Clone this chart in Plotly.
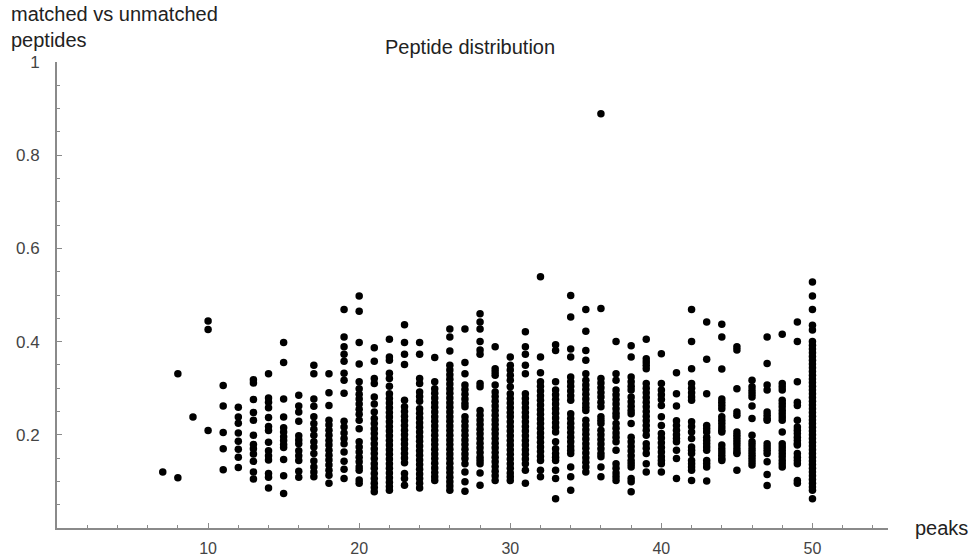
import plotly.graph_objects as go

# ---- data (peaks -> matched/unmatched ratio) ----
col_07 = [0.120]
col_08 = [0.331, 0.108]
col_09 = [0.238]
col_10 = [0.444, 0.426, 0.209]
col_11 = [0.306, 0.262, 0.205, 0.170, 0.125]
col_12 = [0.259, 0.238, 0.225, 0.204, 0.186, 0.169, 0.152, 0.130]
col_13 = [0.318, 0.311, 0.276, 0.248, 0.231, 0.199, 0.179, 0.170, 0.159, 0.143, 0.120, 0.105]
col_14 = [0.331, 0.279, 0.270, 0.258, 0.237, 0.218, 0.209, 0.184, 0.166, 0.155, 0.146, 0.117, 0.109, 0.086]
col_15 = [0.398, 0.355, 0.277, 0.238, 0.215, 0.206, 0.196, 0.188, 0.179, 0.173, 0.147, 0.112, 0.074]
col_16 = [0.285, 0.262, 0.249, 0.229, 0.198, 0.189, 0.181, 0.166, 0.155, 0.145, 0.122, 0.109]
col_17 = [0.349, 0.331, 0.277, 0.261, 0.239, 0.224, 0.212, 0.199, 0.185, 0.174, 0.160, 0.144, 0.131, 0.120, 0.110]
col_18 = [0.331, 0.290, 0.263, 0.231, 0.221, 0.210, 0.199, 0.188, 0.178, 0.167, 0.156, 0.146, 0.135, 0.124, 0.113, 0.096]
col_19 = [0.469, 0.410, 0.389, 0.373, 0.358, 0.332, 0.317, 0.289, 0.229, 0.217, 0.204, 0.192, 0.181, 0.163, 0.143, 0.126, 0.106]
col_20 = [0.498, 0.465, 0.398, 0.352, 0.314, 0.299, 0.287, 0.277, 0.266, 0.255, 0.244, 0.231, 0.213, 0.185, 0.174, 0.163,
          0.152, 0.142, 0.131, 0.124, 0.103, 0.096]
col_21 = [0.387, 0.358, 0.321, 0.310, 0.281, 0.266, 0.249, 0.235, 0.224, 0.213, 0.203, 0.192, 0.181, 0.170, 0.160, 0.149,
          0.138, 0.128, 0.117, 0.106, 0.096, 0.087, 0.078]
col_22 = [0.405, 0.367, 0.360, 0.332, 0.321, 0.304, 0.288, 0.278, 0.268, 0.258, 0.248, 0.238, 0.228, 0.218, 0.208, 0.198,
          0.188, 0.178, 0.168, 0.158, 0.148, 0.138, 0.128, 0.118, 0.108, 0.098, 0.089, 0.081]
col_23 = [0.436, 0.398, 0.373, 0.351, 0.274, 0.260, 0.250, 0.240, 0.230, 0.220, 0.210, 0.200, 0.190, 0.180, 0.170, 0.160,
          0.150, 0.140, 0.117, 0.106, 0.092]
col_24 = [0.398, 0.373, 0.321, 0.310, 0.292, 0.282, 0.272, 0.256, 0.246, 0.236, 0.226, 0.216, 0.206, 0.196, 0.186, 0.176,
          0.166, 0.156, 0.146, 0.136, 0.126, 0.116, 0.106, 0.096, 0.086]
col_25 = [0.366, 0.314, 0.299, 0.289, 0.279, 0.269, 0.259, 0.249, 0.239, 0.229, 0.219, 0.209, 0.199, 0.189, 0.179, 0.169,
          0.159, 0.149, 0.139, 0.129, 0.119, 0.110, 0.102]
col_26 = [0.427, 0.410, 0.380, 0.349, 0.339, 0.329, 0.319, 0.309, 0.299, 0.289, 0.279, 0.269, 0.259, 0.249, 0.239, 0.229,
          0.219, 0.209, 0.199, 0.189, 0.179, 0.169, 0.159, 0.149, 0.139, 0.129, 0.119, 0.109, 0.099, 0.090, 0.081]
col_27 = [0.427, 0.355, 0.331, 0.307, 0.297, 0.287, 0.277, 0.267, 0.260, 0.239, 0.229, 0.219, 0.209, 0.199, 0.189, 0.179,
          0.169, 0.159, 0.149, 0.138, 0.120, 0.099, 0.079]
col_28 = [0.460, 0.442, 0.427, 0.400, 0.382, 0.373, 0.310, 0.303, 0.252, 0.242, 0.232, 0.222, 0.212, 0.202, 0.192, 0.182,
          0.172, 0.162, 0.152, 0.145, 0.138, 0.118, 0.092]
col_29 = [0.389, 0.342, 0.335, 0.328, 0.307, 0.292, 0.282, 0.272, 0.262, 0.252, 0.242, 0.232, 0.222, 0.212, 0.202, 0.192,
          0.182, 0.172, 0.162, 0.152, 0.142, 0.132, 0.122, 0.112, 0.102]
col_30 = [0.367, 0.349, 0.339, 0.328, 0.317, 0.303, 0.288, 0.278, 0.268, 0.258, 0.248, 0.239, 0.228, 0.218, 0.208, 0.198,
          0.188, 0.178, 0.168, 0.158, 0.148, 0.138, 0.128, 0.118, 0.110, 0.102]
col_31 = [0.421, 0.389, 0.373, 0.349, 0.331, 0.288, 0.278, 0.268, 0.258, 0.248, 0.238, 0.228, 0.218, 0.208, 0.198, 0.188,
          0.178, 0.168, 0.158, 0.148, 0.138, 0.124, 0.096]
col_32 = [0.539, 0.367, 0.333, 0.314, 0.304, 0.294, 0.284, 0.274, 0.264, 0.254, 0.244, 0.234, 0.224, 0.214, 0.204, 0.194,
          0.184, 0.174, 0.164, 0.154, 0.145, 0.124, 0.110]
col_33 = [0.393, 0.381, 0.314, 0.296, 0.286, 0.276, 0.266, 0.256, 0.246, 0.236, 0.226, 0.216, 0.206, 0.185, 0.170, 0.160,
          0.152, 0.145, 0.124, 0.106, 0.063]
col_34 = [0.499, 0.453, 0.384, 0.367, 0.324, 0.314, 0.304, 0.294, 0.284, 0.274, 0.245, 0.235, 0.225, 0.215, 0.205, 0.195,
          0.185, 0.175, 0.167, 0.160, 0.131, 0.110, 0.081]
col_35 = [0.469, 0.422, 0.381, 0.360, 0.331, 0.317, 0.307, 0.297, 0.287, 0.277, 0.267, 0.259, 0.252, 0.231, 0.221, 0.211,
          0.201, 0.191, 0.181, 0.171, 0.161, 0.151, 0.141, 0.131, 0.120]
col_36 = [0.889, 0.471, 0.321, 0.311, 0.301, 0.291, 0.281, 0.270, 0.260, 0.239, 0.231, 0.224, 0.210, 0.200, 0.190, 0.180,
          0.170, 0.160, 0.153, 0.131, 0.110]
col_37 = [0.400, 0.331, 0.317, 0.296, 0.286, 0.276, 0.266, 0.256, 0.246, 0.239, 0.224, 0.214, 0.204, 0.195, 0.185, 0.167,
          0.138, 0.128, 0.118, 0.110, 0.102]
col_38 = [0.391, 0.367, 0.324, 0.314, 0.304, 0.296, 0.281, 0.271, 0.261, 0.252, 0.245, 0.224, 0.195, 0.185, 0.175, 0.165,
          0.155, 0.145, 0.138, 0.131, 0.106, 0.099, 0.078]
col_39 = [0.405, 0.363, 0.356, 0.349, 0.342, 0.310, 0.300, 0.290, 0.280, 0.270, 0.260, 0.250, 0.240, 0.230, 0.220, 0.210,
          0.199, 0.181, 0.171, 0.160, 0.138, 0.120]
col_40 = [0.374, 0.310, 0.296, 0.286, 0.276, 0.263, 0.239, 0.220, 0.203, 0.193, 0.183, 0.173, 0.163, 0.153, 0.145, 0.138, 0.120]
col_41 = [0.333, 0.288, 0.262, 0.230, 0.220, 0.210, 0.200, 0.192, 0.185, 0.167, 0.149, 0.106]
col_42 = [0.469, 0.400, 0.342, 0.310, 0.300, 0.290, 0.281, 0.274, 0.228, 0.218, 0.206, 0.192, 0.174, 0.167, 0.160, 0.145,
          0.138, 0.131, 0.124, 0.102]
col_43 = [0.442, 0.362, 0.288, 0.220, 0.213, 0.206, 0.195, 0.188, 0.181, 0.174, 0.167, 0.145, 0.138, 0.131, 0.101]
col_44 = [0.437, 0.410, 0.341, 0.277, 0.270, 0.263, 0.256, 0.239, 0.231, 0.224, 0.217, 0.210, 0.206, 0.178, 0.170, 0.163,
          0.156, 0.149, 0.145]
col_45 = [0.389, 0.382, 0.299, 0.249, 0.242, 0.206, 0.199, 0.192, 0.185, 0.178, 0.170, 0.163, 0.160, 0.124]
col_46 = [0.317, 0.303, 0.295, 0.288, 0.281, 0.262, 0.235, 0.199, 0.185, 0.178, 0.170, 0.163, 0.156, 0.149, 0.142, 0.135]
col_47 = [0.410, 0.353, 0.307, 0.296, 0.249, 0.242, 0.235, 0.231, 0.181, 0.174, 0.167, 0.160, 0.142, 0.115, 0.091]
col_48 = [0.416, 0.310, 0.303, 0.296, 0.274, 0.267, 0.260, 0.252, 0.245, 0.238, 0.231, 0.206, 0.181, 0.174, 0.167, 0.160,
          0.153, 0.145, 0.138, 0.131]
col_49 = [0.442, 0.400, 0.314, 0.270, 0.263, 0.231, 0.217, 0.210, 0.203, 0.195, 0.188, 0.181, 0.178, 0.160, 0.152, 0.145,
          0.138, 0.102, 0.096]
col_50 = [0.528, 0.498, 0.469, 0.435, 0.425, 0.400, 0.392, 0.384, 0.376, 0.368, 0.360, 0.352, 0.344, 0.336, 0.328, 0.320,
          0.312, 0.304, 0.296, 0.288, 0.280, 0.272, 0.264, 0.256, 0.248, 0.240, 0.232, 0.224, 0.216, 0.208, 0.200, 0.192,
          0.184, 0.176, 0.168, 0.160, 0.152, 0.144, 0.136, 0.128, 0.120, 0.112, 0.104, 0.096, 0.088, 0.081, 0.063]

peak_counts = list(range(7, 51))
columns = [col_07, col_08, col_09, col_10, col_11, col_12, col_13, col_14, col_15, col_16, col_17, col_18, col_19,
           col_20, col_21, col_22, col_23, col_24, col_25, col_26, col_27, col_28, col_29, col_30, col_31, col_32,
           col_33, col_34, col_35, col_36, col_37, col_38, col_39, col_40, col_41, col_42, col_43, col_44, col_45,
           col_46, col_47, col_48, col_49, col_50]

x_ticks = [10, 20, 30, 40, 50]
y_ticks = [0.2, 0.4, 0.6, 0.8, 1.0]
y_tick_text = ["0.2", "0.4", "0.6", "0.8", "1"]

xs, ys = [], []
for p, vals in zip(peak_counts, columns):
    xs.extend([p] * len(vals))
    ys.extend(vals)

FONT = "Liberation Sans, Arial, sans-serif"
AXIS = "#8a8a8a"

fig = go.Figure(go.Scatter(
    x=xs, y=ys, mode="markers",
    marker=dict(color="black", size=7.5, line=dict(width=0)),
    hoverinfo="x+y",
    cliponaxis=False,
))

fig.update_layout(
    width=974, height=557,
    margin=dict(l=57, r=86, t=62, b=29, autoexpand=False),
    plot_bgcolor="white", paper_bgcolor="white",
    showlegend=False,
    font=dict(family=FONT, color="#333"),
)

fig.update_xaxes(
    range=[0, 55], showgrid=False, zeroline=False, automargin=False,
    showline=True, linecolor=AXIS, linewidth=2,
    tickmode="array", tickvals=x_ticks,
    ticks="inside", ticklen=5, tickwidth=1, tickcolor=AXIS,
    minor=dict(tick0=0, dtick=2, ticks="inside", ticklen=3, tickcolor=AXIS, showgrid=False),
    tickfont=dict(family=FONT, size=16, color="#444"),
    ticklabelstandoff=5,
)
fig.update_yaxes(
    range=[0, 1], showgrid=False, zeroline=False, automargin=False,
    showline=True, linecolor=AXIS, linewidth=2,
    tickmode="array", tickvals=y_ticks, ticktext=y_tick_text,
    ticks="inside", ticklen=5, tickwidth=1, tickcolor=AXIS,
    minor=dict(tick0=0, dtick=0.05, ticks="inside", ticklen=3, tickcolor=AXIS, showgrid=False),
    tickfont=dict(family=FONT, size=17, color="#444"),
    ticklabelstandoff=12,
)

fig.add_annotation(
    text="Peptide distribution", xref="paper", yref="paper",
    x=0.497, y=1.032, xanchor="center", yanchor="middle", showarrow=False,
    font=dict(family=FONT, size=20, color="#222"),
)
fig.add_annotation(
    text="matched vs unmatched<br>peptides", xref="paper", yref="paper",
    x=-0.058, y=1.131, xanchor="left", yanchor="top", align="left", showarrow=False,
    font=dict(family=FONT, size=20, color="#222"),
)
fig.add_annotation(
    text="peaks", xref="paper", yref="paper",
    x=1.030, y=0.0, xanchor="left", yanchor="middle", showarrow=False,
    font=dict(family=FONT, size=20, color="#222"),
)

fig.write_html(
    "out.html",
    config={"displayModeBar": False},
    post_script="document.body.style.margin='0';document.body.style.overflow='hidden';",
)
